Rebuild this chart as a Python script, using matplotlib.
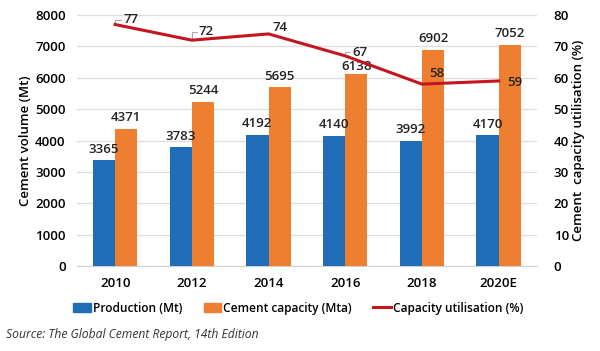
import numpy as np
import matplotlib.pyplot as plt
from matplotlib.lines import Line2D
from matplotlib.patches import Patch

plt.rcParams['font.family'] = ['Open Sans', 'DejaVu Sans']

years = ['2010', '2012', '2014', '2016', '2018', '2020E']
production = [3365, 3783, 4192, 4140, 3992, 4170]
capacity = [4371, 5244, 5695, 6138, 6902, 7052]
utilisation = [77, 72, 74, 67, 58, 59]

# label offsets for the utilisation line (points)
util_off = [(6, 3.5), (5, 6), (3, 4.5), (5, 2.5), (5, 7.5), (6, -0.8)]
leader = [True, True, False, True, False, False]
# gap above the capacity bars (data units), 2016 label sits tight on its bar
cap_gap = [150, 150, 150, 20, 150, 150]

blue = '#1f6db7'
orange = '#ee7f30'
red = '#c3161f'
fs = 9.5

fig = plt.figure(figsize=(6, 3.51), dpi=100)
ax = fig.add_axes([0.128, 0.242, 0.767, 0.715])
x = np.arange(len(years))
w = 0.29

ax.bar(x - w/2, production, w, color=blue, zorder=3)
ax.bar(x + w/2, capacity, w, color=orange, zorder=3)
for i in range(len(years)):
    ax.text(x[i] - w/2, production[i] + 150, str(production[i]), ha='center', va='bottom',
            fontsize=fs, fontweight='semibold', color='#222222', zorder=5)
    ax.text(x[i] + w/2, capacity[i] + cap_gap[i], str(capacity[i]), ha='center', va='bottom',
            fontsize=fs, fontweight='semibold', color='#222222', zorder=5)

ax.set_ylim(0, 8000)
ax.set_yticks(np.arange(0, 8001, 1000))
ax.set_xlim(-0.5, len(years) - 0.5)
ax.set_xticks(x)
ax.set_xticklabels(years)
ax.grid(axis='y', color='#dddddd', lw=0.9, zorder=0)
for s in ['top', 'right', 'left']:
    ax.spines[s].set_visible(False)
ax.spines['bottom'].set_color('#d0d0d0')
ax.tick_params(length=0, labelsize=fs, pad=8)
for lab in ax.get_xticklabels() + ax.get_yticklabels():
    lab.set_fontweight('semibold')
ax.set_ylabel('Cement volume (Mt)', fontsize=fs, fontweight='semibold', labelpad=2)

ax2 = ax.twinx()
ax2.plot(x, utilisation, color=red, lw=2.2, zorder=4)
ax2.set_ylim(0, 80)
ax2.set_yticks(np.arange(0, 81, 10))
for s in ['top', 'right', 'left', 'bottom']:
    ax2.spines[s].set_visible(False)
ax2.tick_params(length=0, labelsize=fs, pad=12)
for lab in ax2.get_yticklabels():
    lab.set_fontweight('semibold')
ax2.set_ylabel('Cement  capacity utilisation (%)', fontsize=fs, fontweight='semibold',
               rotation=90, labelpad=2)
for i in range(len(years)):
    ax2.annotate(str(utilisation[i]), (x[i], utilisation[i]), xytext=util_off[i],
                 textcoords='offset points', ha='left', va='center',
                 fontsize=fs, fontweight='semibold', color='#222222', zorder=6)
    if leader[i]:
        dx, dy = util_off[i]
        # small bracket leader from the point towards the label
        ax2.annotate('', xy=(x[i], utilisation[i]), xycoords='data',
                     xytext=(dx - 1.5, dy), textcoords='offset points',
                     arrowprops=dict(arrowstyle='-', color='#aaaaaa', lw=0.8,
                                     connectionstyle='angle,angleA=0,angleB=90,rad=0',
                                     shrinkA=0, shrinkB=0))

handles = [Patch(color=blue), Patch(color=orange), Line2D([], [], color=red, lw=2.2)]
labels = ['Production (Mt)', 'Cement capacity (Mta)', 'Capacity utilisation (%)']
fig.legend(handles, labels, loc='center', bbox_to_anchor=(0.497, 0.122), ncol=3,
           frameon=False, handlelength=1.5, handleheight=0.85,
           handletextpad=0.15, columnspacing=1.8,
           prop={'weight': 'semibold', 'size': 8.6})

fig.text(0.01, 0.046, 'Source: The Global Cement Report, 14th Edition', fontsize=8.7,
         style='italic', color='#333333', va='center')

fig.savefig('out.png', dpi=100)
